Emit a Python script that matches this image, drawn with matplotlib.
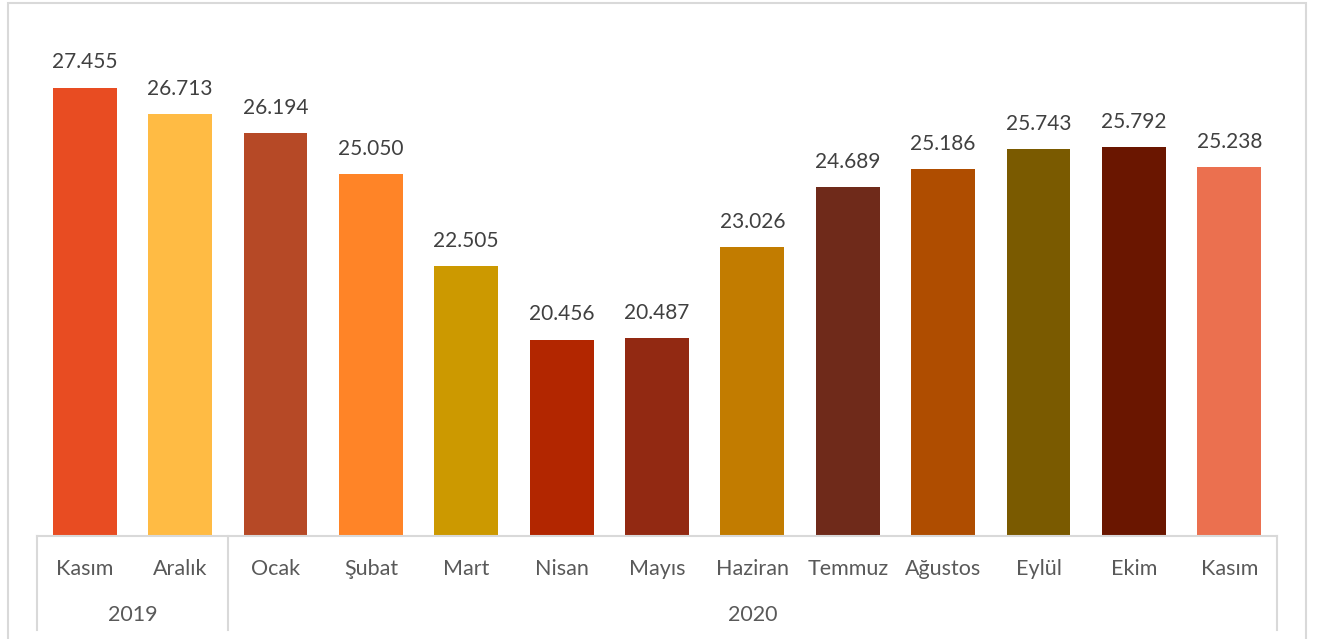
import matplotlib.pyplot as plt
from matplotlib.patches import Rectangle

months = ['Kasım', 'Aralık', 'Ocak', 'Şubat', 'Mart', 'Nisan', 'Mayıs',
          'Haziran', 'Temmuz', 'Ağustos', 'Eylül', 'Ekim', 'Kasım']
values = [27.455, 26.713, 26.194, 25.050, 22.505, 20.456, 20.487,
          23.026, 24.689, 25.186, 25.743, 25.792, 25.238]
years = ['2019', '2020']
year_counts = [2, 11]

bar_colors = ['#E84C22', '#FFBB44', '#B64926', '#FF8427', '#CC9900',
              '#B22600', '#922912', '#C27C00', '#6F2A1A', '#AF4D00',
              '#7A5A00', '#6A1600', '#EB704F']

W, H = 1320, 639
fig = plt.figure(figsize=(W / 100, H / 100), dpi=100)
plt.rcParams['font.family'] = ['Lato', 'DejaVu Sans']

# outer chart border
fig.patches.append(Rectangle((8 / W, -0.05), 1298 / W, 1.05 - 3 / H,
                             transform=fig.transFigure, fill=False,
                             edgecolor='#D9D9D9', linewidth=1.5))

left, right, bottom, top = 37, 1277, 536, 68
ax = fig.add_axes([left / W, (H - bottom) / H, (right - left) / W, (bottom - top) / H])

x = list(range(len(months)))
ax.bar(x, [v - 15 for v in values], bottom=15, width=0.67, color=bar_colors)
ax.set_xlim(-0.5, len(months) - 0.5)
ax.set_ylim(15, 28)

for xi, v in zip(x, values):
    ax.annotate(f'{v:.3f}', (xi, v), xytext=(0, 11), textcoords='offset points',
                ha='center', va='bottom', fontsize=15, color='#404040',
                annotation_clip=False)

for s in ['top', 'right', 'left']:
    ax.spines[s].set_visible(False)
ax.spines['bottom'].set_color('#D9D9D9')
ax.spines['bottom'].set_linewidth(1.5)
ax.set_xticks([])
ax.set_yticks([])

trans = ax.get_xaxis_transform()
px = 1 / (bottom - top)  # one pixel in axes fraction

for xi, m in zip(x, months):
    ax.text(xi, -33 * px, m, transform=trans, ha='center', va='center',
            fontsize=15.5, color='#595959')

# group separators and year labels
start = 0
edges = [-0.5]
for yr, n in zip(years, year_counts):
    edges.append(start + n - 0.5)
    ax.text(start + (n - 1) / 2, -79 * px, yr, transform=trans, ha='center',
            va='center', fontsize=15.5, color='#595959')
    start += n
for e in edges:
    ax.plot([e, e], [0, -94 * px], transform=trans, color='#D9D9D9',
            linewidth=1.5, clip_on=False)

fig.savefig('out.png', dpi=100)
